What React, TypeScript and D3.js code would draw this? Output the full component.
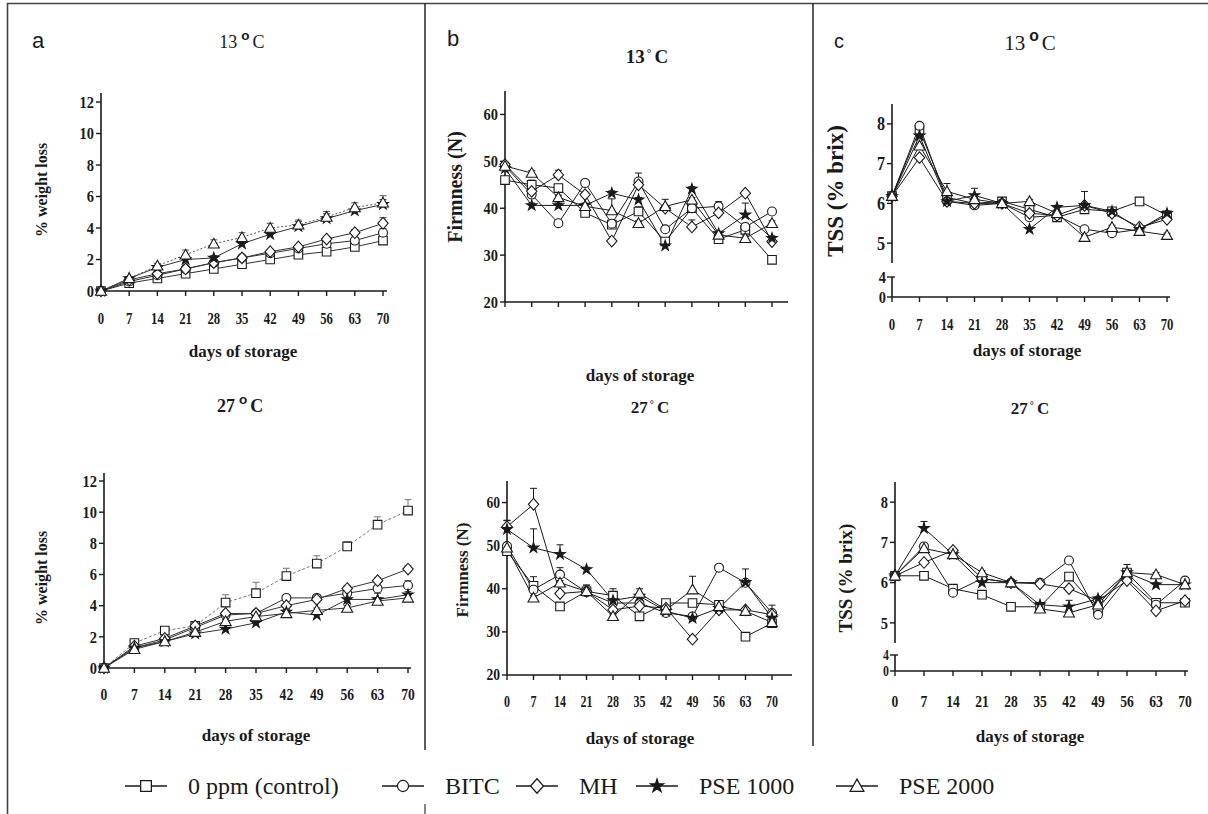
import React from "react";
import * as d3 from "d3";

const days = [0, 7, 14, 21, 28, 35, 42, 49, 56, 63, 70];
const treatments = ["0 ppm (control)", "BITC", "MH", "PSE 1000", "PSE 2000"];
const shapes = ["square", "circle", "diamond", "star", "triangle"];

// a - % weight loss, 13 C
const wl13Control = [0, 0.5, 0.8, 1.1, 1.4, 1.7, 2.0, 2.3, 2.5, 2.8, 3.2];
const wl13Bitc = [0, 0.6, 1.0, 1.4, 1.8, 2.1, 2.4, 2.7, 3.0, 3.2, 3.7];
const wl13Mh = [0, 0.7, 1.1, 1.4, 1.8, 2.1, 2.5, 2.8, 3.3, 3.7, 4.3];
const wl13Pse1000 = [0, 0.8, 1.5, 2.0, 2.1, 3.0, 3.6, 4.1, 4.6, 5.1, 5.5];
const wl13Pse2000 = [0, 0.8, 1.6, 2.3, 3.0, 3.4, 4.0, 4.2, 4.7, 5.3, 5.6];
const wl13ErrControl = [0, 0.1, 0.1, 0.1, 0.15, 0.1, 0.1, 0.15, 0.15, 0.2, 0.2];
const wl13ErrBitc = [0, 0.1, 0.1, 0.1, 0.1, 0.1, 0.15, 0.15, 0.15, 0.2, 0.25];
const wl13ErrMh = [0, 0.1, 0.1, 0.1, 0.1, 0.1, 0.15, 0.15, 0.15, 0.2, 0.35];
const wl13ErrPse1000 = [0, 0.1, 0.1, 0.15, 0.15, 0.15, 0.2, 0.3, 0.3, 0.25, 0.3];
const wl13ErrPse2000 = [0, 0.1, 0.15, 0.3, 0.25, 0.3, 0.3, 0.3, 0.35, 0.3, 0.45];

// a - % weight loss, 27 C
const wl27Control = [0, 1.6, 2.4, 2.7, 4.2, 4.8, 5.9, 6.7, 7.8, 9.2, 10.1];
const wl27Bitc = [0, 1.3, 1.8, 2.6, 3.4, 3.5, 4.5, 4.5, 4.8, 5.1, 5.3];
const wl27Mh = [0, 1.4, 1.9, 2.7, 3.5, 3.5, 4.0, 4.4, 5.1, 5.6, 6.35];
const wl27Pse1000 = [0, 1.3, 1.7, 2.2, 2.5, 2.9, 3.6, 3.4, 4.4, 4.4, 4.7];
const wl27Pse2000 = [0, 1.2, 1.7, 2.3, 3.0, 3.3, 3.5, 3.7, 3.85, 4.3, 4.5];
const wl27ErrControl = [0, 0.2, 0.2, 0.2, 0.5, 0.7, 0.5, 0.5, 0.3, 0.5, 0.7];
const wl27ErrBitc = [0, 0.1, 0.1, 0.1, 0.15, 0.15, 0.15, 0.2, 0.2, 0.2, 0.3];
const wl27ErrMh = [0, 0.1, 0.1, 0.1, 0.15, 0.15, 0.15, 0.2, 0.2, 0.2, 0.2];
const wl27ErrPse1000 = [0, 0.1, 0.1, 0.1, 0.1, 0.1, 0.15, 0.15, 0.5, 0.4, 0.2];
const wl27ErrPse2000 = [0, 0.1, 0.1, 0.1, 0.1, 0.1, 0.1, 0.15, 0.15, 0.2, 0.2];

// b - firmness (N), 13 C
const fi13Control = [46, 45, 44.3, 39, 36.5, 39.3, 32.9, 40, 33.4, 35.4, 29];
const fi13Bitc = [49, 42.9, 36.8, 45.4, 36.7, 45.7, 35.5, 40, 40.4, 36, 39.3];
const fi13Mh = [49.3, 43.6, 47.1, 42.9, 33, 45, 40, 36, 39, 43.2, 32.9];
const fi13Pse1000 = [48.5, 40.6, 40.6, 40.6, 43.2, 41.8, 32, 44.1, 34.6, 38.6, 33.6];
const fi13Pse2000 = [49, 47.5, 42.3, 40.4, 39.5, 36.8, 40.4, 41.8, 34.3, 33.6, 36.8];
const fi13ErrControl = [0.5, 1, 0.5, 0.5, 0.8, 1, 0.5, 0.5, 0.5, 0.5, 0.3];
const fi13ErrBitc = [0.5, 0.8, 0.5, 0.5, 0.5, 1.8, 0.5, 0.5, 1, 0.8, 0.5];
const fi13ErrMh = [0.5, 0.5, 1, 0.5, 0.5, 0.8, 0.5, 1.5, 0.5, 0.5, 0.5];
const fi13ErrPse1000 = [0.5, 0.5, 0.5, 0.5, 0.5, 0.5, 0.5, 0.5, 0.5, 2.5, 0.5];
const fi13ErrPse2000 = [0.5, 0.5, 0.5, 0.5, 2.5, 0.5, 1.5, 0.5, 0.5, 0.5, 0.5];

// b - firmness (N), 27 C
const fi27Control = [48.7, 40.7, 35.9, 39.4, 38.4, 33.6, 36.7, 36.7, 36.3, 28.9, 32];
const fi27Bitc = [49.9, 39.8, 43.3, 39.2, 36.7, 36.7, 34.4, 33.6, 44.9, 41.4, 34.4];
const fi27Mh = [54.4, 59.6, 38.9, 39.4, 35.1, 36, 35.5, 28.3, 35.1, 35.1, 34];
const fi27Pse1000 = [53.8, 49.5, 48, 44.5, 37.3, 38.3, 34.8, 33.2, 35.5, 41.5, 33.2];
const fi27Pse2000 = [49.5, 37.9, 41.4, 39.4, 33.6, 39, 35.1, 39.8, 35.9, 34.8, 32.2];
const fi27ErrControl = [0.5, 0.8, 0.5, 1.5, 1.6, 0.5, 0.5, 0.5, 0.5, 0.5, 0.5];
const fi27ErrBitc = [0.5, 3, 1.6, 1.5, 0.5, 0.5, 0.5, 0.5, 0.5, 0.5, 1.8];
const fi27ErrMh = [1.5, 3.7, 0.5, 0.5, 0.5, 0.5, 0.5, 0.5, 0.5, 0.5, 0.5];
const fi27ErrPse1000 = [2, 4.4, 2.2, 0.5, 0.5, 0.5, 0.5, 0.5, 0.5, 3.1, 0.5];
const fi27ErrPse2000 = [0.5, 0.5, 0.5, 0.5, 0.5, 1, 0.5, 3.1, 0.5, 0.5, 0.5];

// c - TSS (% brix), 13 C
const ts13Control = [6.18, 7.85, 6.15, 6.0, 6.05, 5.85, 5.65, 5.85, 5.8, 6.05, 5.7];
const ts13Bitc = [6.18, 7.95, 6.05, 5.95, 6.0, 5.65, 5.7, 5.35, 5.25, 5.35, 5.7];
const ts13Mh = [6.18, 7.15, 6.05, 6.0, 6.0, 5.75, 5.7, 5.95, 5.75, 5.4, 5.6];
const ts13Pse1000 = [6.18, 7.7, 6.05, 6.2, 6.0, 5.35, 5.9, 5.95, 5.8, 5.35, 5.75];
const ts13Pse2000 = [6.18, 7.45, 6.3, 6.1, 6.0, 6.05, 5.75, 5.15, 5.4, 5.3, 5.2];
const ts13ErrControl = [0.03, 0.05, 0.05, 0.05, 0.05, 0.05, 0.05, 0.05, 0.05, 0.05, 0.05];
const ts13ErrBitc = [0.03, 0.05, 0.05, 0.05, 0.05, 0.05, 0.05, 0.05, 0.05, 0.05, 0.05];
const ts13ErrMh = [0.03, 0.05, 0.05, 0.05, 0.05, 0.05, 0.05, 0.05, 0.05, 0.05, 0.05];
const ts13ErrPse1000 = [0.03, 0.05, 0.05, 0.18, 0.05, 0.05, 0.05, 0.35, 0.05, 0.05, 0.05];
const ts13ErrPse2000 = [0.03, 0.05, 0.2, 0.05, 0.05, 0.05, 0.05, 0.05, 0.05, 0.05, 0.05];

// c - TSS (% brix), 27 C
const ts27Control = [6.17, 6.17, 5.85, 5.7, 5.4, 5.4, 6.15, 5.35, 6.25, 5.5, 5.5];
const ts27Bitc = [6.17, 6.9, 5.75, 6.1, 6.0, 6.0, 6.55, 5.2, 6.1, 5.45, 6.05];
const ts27Mh = [6.17, 6.5, 6.8, 6.1, 6.0, 5.97, 5.85, 5.55, 6.05, 5.3, 5.55];
const ts27Pse1000 = [6.17, 7.35, 6.7, 6.0, 6.0, 5.45, 5.4, 5.6, 6.25, 5.95, 5.95];
const ts27Pse2000 = [6.17, 6.85, 6.7, 6.25, 6.0, 5.35, 5.25, 5.45, 6.25, 6.2, 5.95];
const ts27ErrControl = [0.03, 0.03, 0.05, 0.05, 0.05, 0.05, 0.05, 0.05, 0.05, 0.05, 0.05];
const ts27ErrBitc = [0.03, 0.05, 0.05, 0.05, 0.05, 0.05, 0.05, 0.05, 0.05, 0.05, 0.05];
const ts27ErrMh = [0.03, 0.05, 0.05, 0.05, 0.05, 0.05, 0.05, 0.05, 0.05, 0.05, 0.05];
const ts27ErrPse1000 = [0.03, 0.17, 0.05, 0.05, 0.05, 0.05, 0.16, 0.05, 0.2, 0.05, 0.05];
const ts27ErrPse2000 = [0.03, 0.05, 0.05, 0.05, 0.05, 0.05, 0.05, 0.05, 0.05, 0.05, 0.05];

const wlTicks = [0, 2, 4, 6, 8, 10, 12];
const fiTicks = [20, 30, 40, 50, 60];
const tsTicks = [5, 6, 7, 8];
const tsLowTicks = [0, 4];

const SERIF = "'Liberation Serif', 'Times New Roman', serif";
const SANS = "'Liberation Sans', Arial, sans-serif";
const INK = "#1a1a1a";

type PanelCfg = {
  x0: number; x1: number; xEnd: number;
  yDomain: [number, number]; yRange: [number, number]; axisTop: number;
  yTicks: number[];
  low?: { domain: [number, number]; range: [number, number]; ticks: number[]; font: number };
  series: number[][]; errs: number[][];
  dash: (string | undefined)[]; stroke: string[];
  showXLabels: boolean; xLabelY: number;
  tickFont: number; yTickFont: number; xScaleX: number;
};

function markerPath(shape: string) {
  switch (shape) {
    case "square": return "M-4.3,-4.3H4.3V4.3H-4.3Z";
    case "diamond": return "M0,-5.8L5.2,0L0,5.8L-5.2,0Z";
    case "triangle": return "M0,-5.5L5.5,4.2H-5.5Z";
    case "star": return d3.symbol(d3.symbolStar, 34)() as string;
    default: return d3.symbol(d3.symbolCircle, 62)() as string;
  }
}

// condensed bold tick text
function Tick({ x, y, anchor, size, sx, children }: any) {
  return (
    <text transform={`translate(${x},${y}) scale(${sx},1)`} textAnchor={anchor}
      fontFamily={SERIF} fontWeight="bold" fontSize={size} fill={INK}>{children}</text>
  );
}

function Panel({ cfg }: { cfg: PanelCfg }) {
  const x = d3.scaleLinear().domain([0, 70]).range([cfg.x0, cfg.x1]);
  const y = d3.scaleLinear().domain(cfg.yDomain).range(cfg.yRange);
  const low = cfg.low ? d3.scaleLinear().domain(cfg.low.domain).range(cfg.low.range) : null;
  const base = low ? low(0) : y(cfg.yDomain[0]);
  const line = d3.line<number>().x((_, i) => x(days[i])).y((d) => y(d));
  const ax = cfg.x0;
  return (
    <g>
      {/* y axis */}
      <line x1={ax} x2={ax} y1={cfg.axisTop} y2={low ? y(cfg.yDomain[0]) : base} stroke={INK} strokeWidth={1.6} />
      {cfg.yTicks.map((t) => (
        <g key={"yt" + t}>
          <line x1={ax - 5} x2={ax} y1={y(t)} y2={y(t)} stroke={INK} strokeWidth={1.4} />
          <Tick x={ax - 7} y={y(t) + cfg.yTickFont * 0.34} anchor="end" size={cfg.yTickFont} sx={0.85}>{t}</Tick>
        </g>
      ))}
      {low && (
        <g>
          <line x1={ax} x2={ax} y1={low(cfg.low!.domain[1])} y2={base} stroke={INK} strokeWidth={1.6} />
          {cfg.low!.ticks.map((t) => (
            <g key={"lt" + t}>
              <line x1={ax - 5} x2={ax + (t > 0 ? 3 : 0)} y1={low(t)} y2={low(t)} stroke={INK} strokeWidth={1.4} />
              <Tick x={ax - 6} y={low(t) + cfg.low!.font * 0.34} anchor="end" size={cfg.low!.font} sx={0.85}>{t}</Tick>
            </g>
          ))}
        </g>
      )}
      {/* x axis */}
      <line x1={ax} x2={cfg.xEnd} y1={base} y2={base} stroke={INK} strokeWidth={1.6} />
      {days.map((d) => (
        <g key={"xt" + d}>
          <line x1={x(d)} x2={x(d)} y1={base} y2={base + 5} stroke={INK} strokeWidth={1.4} />
          {cfg.showXLabels && (
            <Tick x={x(d)} y={cfg.xLabelY} anchor="middle" size={cfg.tickFont} sx={cfg.xScaleX}>{d}</Tick>
          )}
        </g>
      ))}
      {/* series lines */}
      {cfg.series.map((s, k) => (
        <path key={"l" + k} d={line(s) as string} fill="none" stroke={cfg.stroke[k]} strokeWidth={1}
          strokeDasharray={cfg.dash[k]} />
      ))}
      {/* error bars */}
      {cfg.series.map((s, k) => (
        <g key={"e" + k} stroke={cfg.stroke[k]} strokeWidth={1}>
          {s.map((v, i) => {
            const e = cfg.errs[k][i];
            if (!e) return null;
            const top = y(v + e);
            return (
              <g key={i}>
                <line x1={x(days[i])} x2={x(days[i])} y1={y(v)} y2={top} />
                <line x1={x(days[i]) - 3.5} x2={x(days[i]) + 3.5} y1={top} y2={top} />
              </g>
            );
          })}
        </g>
      ))}
      {/* markers */}
      {cfg.series.map((s, k) => (
        <g key={"m" + k}>
          {s.map((v, i) => (
            <path key={i} d={markerPath(shapes[k])} transform={`translate(${x(days[i])},${y(v)})`}
              fill={shapes[k] === "star" ? INK : "#fff"} stroke={INK} strokeWidth={1.1} />
          ))}
        </g>
      ))}
    </g>
  );
}

const solid = [INK, INK, INK, INK, INK];

const panels: PanelCfg[] = [
  {
    x0: 101, x1: 383, xEnd: 387, yDomain: [0, 12], yRange: [291, 102], axisTop: 93, yTicks: wlTicks,
    series: [wl13Control, wl13Bitc, wl13Mh, wl13Pse1000, wl13Pse2000],
    errs: [wl13ErrControl, wl13ErrBitc, wl13ErrMh, wl13ErrPse1000, wl13ErrPse2000],
    dash: [undefined, undefined, undefined, undefined, "2,2"], stroke: ["#333", "#333", "#333", "#333", "#555"],
    showXLabels: true, xLabelY: 324, tickFont: 17, yTickFont: 17, xScaleX: 0.75,
  },
  {
    x0: 104, x1: 408, xEnd: 411, yDomain: [0, 12], yRange: [668, 481], axisTop: 473, yTicks: wlTicks,
    series: [wl27Control, wl27Bitc, wl27Mh, wl27Pse1000, wl27Pse2000],
    errs: [wl27ErrControl, wl27ErrBitc, wl27ErrMh, wl27ErrPse1000, wl27ErrPse2000],
    dash: ["3,2", undefined, undefined, undefined, undefined], stroke: ["#777", "#333", "#333", "#333", "#333"],
    showXLabels: true, xLabelY: 700, tickFont: 17, yTickFont: 17, xScaleX: 0.8,
  },
  {
    x0: 505, x1: 772, xEnd: 788, yDomain: [20, 65], yRange: [302, 91], axisTop: 91, yTicks: fiTicks,
    series: [fi13Control, fi13Bitc, fi13Mh, fi13Pse1000, fi13Pse2000],
    errs: [fi13ErrControl, fi13ErrBitc, fi13ErrMh, fi13ErrPse1000, fi13ErrPse2000],
    dash: [undefined, undefined, undefined, undefined, undefined], stroke: solid,
    showXLabels: false, xLabelY: 0, tickFont: 16, yTickFont: 17, xScaleX: 0.75,
  },
  {
    x0: 507, x1: 772, xEnd: 792, yDomain: [20, 65], yRange: [675, 481], axisTop: 481, yTicks: fiTicks,
    series: [fi27Control, fi27Bitc, fi27Mh, fi27Pse1000, fi27Pse2000],
    errs: [fi27ErrControl, fi27ErrBitc, fi27ErrMh, fi27ErrPse1000, fi27ErrPse2000],
    dash: [undefined, undefined, undefined, undefined, undefined], stroke: solid,
    showXLabels: true, xLabelY: 707, tickFont: 16, yTickFont: 16, xScaleX: 0.75,
  },
  {
    x0: 892, x1: 1167, xEnd: 1170, yDomain: [4.5, 8.5], yRange: [263, 104], axisTop: 104, yTicks: tsTicks,
    low: { domain: [0, 4], range: [297, 277], ticks: tsLowTicks, font: 17 },
    series: [ts13Control, ts13Bitc, ts13Mh, ts13Pse1000, ts13Pse2000],
    errs: [ts13ErrControl, ts13ErrBitc, ts13ErrMh, ts13ErrPse1000, ts13ErrPse2000],
    dash: [undefined, undefined, undefined, undefined, undefined], stroke: solid,
    showXLabels: true, xLabelY: 330, tickFont: 17, yTickFont: 19, xScaleX: 0.75,
  },
  {
    x0: 895, x1: 1185, xEnd: 1188, yDomain: [4.5, 8.5], yRange: [643, 482], axisTop: 482, yTicks: tsTicks,
    low: { domain: [0, 4], range: [671, 655], ticks: tsLowTicks, font: 14 },
    series: [ts27Control, ts27Bitc, ts27Mh, ts27Pse1000, ts27Pse2000],
    errs: [ts27ErrControl, ts27ErrBitc, ts27ErrMh, ts27ErrPse1000, ts27ErrPse2000],
    dash: [undefined, undefined, undefined, undefined, undefined], stroke: solid,
    showXLabels: true, xLabelY: 707, tickFont: 17, yTickFont: 17, xScaleX: 0.8,
  },
];

function Degree({ x, y, num, size, bold, big }: any) {
  return (
    <text x={x} y={y} textAnchor="middle" fontFamily={SERIF} fontSize={size} fontWeight={bold ? "bold" : "normal"} fill={INK}>
      {num}
      {big ? (
        <tspan dx={4} dy={-size * 0.45} fontFamily={SANS} fontWeight="bold" fontSize={size * 0.75}>o</tspan>
      ) : (
        <tspan dx={2} dy={-size * 0.3} fontSize={size * 0.6}>°</tspan>
      )}
      <tspan dx={3} dy={big ? size * 0.45 : size * 0.3}>C</tspan>
    </text>
  );
}

function VLabel({ x, y, size, children }: any) {
  return (
    <text transform={`translate(${x},${y}) rotate(-90)`} textAnchor="middle" fontFamily={SERIF}
      fontWeight="bold" fontSize={size} fill={INK}>{children}</text>
  );
}

function XLabel({ x, y }: any) {
  return (
    <text x={x} y={y} textAnchor="middle" fontFamily={SERIF} fontWeight="bold" fontSize={17} fill={INK}>days of storage</text>
  );
}

const legendX = [125, 382, 516, 636, 836];

export default function App() {
  return (
    <svg width={1208} height={814} style={{ position: "absolute", left: 0, top: 0, background: "#fff" }}>
      <rect width={1208} height={814} fill="#fff" />
      {/* frame */}
      <line x1={7} x2={1208} y1={3.5} y2={3.5} stroke="#444" strokeWidth={1.6} />
      <line x1={7.5} x2={7.5} y1={3} y2={814} stroke="#444" strokeWidth={1.6} />
      <line x1={425} x2={425} y1={3} y2={750} stroke="#333" strokeWidth={1.6} />
      <line x1={425} x2={425} y1={804} y2={814} stroke="#333" strokeWidth={1.2} />
      <line x1={813} x2={813} y1={3} y2={746} stroke="#333" strokeWidth={1.6} />

      {/* panel letters */}
      <text x={32} y={48} fontFamily={SANS} fontSize={22} fill={INK}>a</text>
      <text x={447} y={46} fontFamily={SANS} fontSize={22} fill={INK}>b</text>
      <text x={834} y={48} fontFamily={SANS} fontSize={20} fill={INK}>c</text>

      {/* titles */}
      <Degree x={242} y={48} num="13" size={18} big />
      <Degree x={647} y={63} num="13" size={19} bold />
      <Degree x={1030} y={50} num="13" size={21} big />
      <Degree x={240} y={412} num="27" size={18} bold big />
      <Degree x={650} y={413} num="27" size={17} bold />
      <Degree x={1030} y={414} num="27" size={17} bold />

      {/* axis titles */}
      <VLabel x={47} y={190} size={16}>% weight loss</VLabel>
      <VLabel x={47} y={578} size={16}>% weight loss</VLabel>
      <VLabel x={462} y={187} size={20}>Firmness (N)</VLabel>
      <VLabel x={468} y={570} size={17}>Firmness (N)</VLabel>
      <VLabel x={843} y={191} size={23}>TSS (% brix)</VLabel>
      <VLabel x={852} y={578} size={19}>TSS (% brix)</VLabel>

      <XLabel x={243} y={357} />
      <XLabel x={256} y={741} />
      <XLabel x={640} y={381} />
      <XLabel x={640} y={744} />
      <XLabel x={1027} y={356} />
      <XLabel x={1030} y={742} />

      {panels.map((p, i) => <Panel key={i} cfg={p} />)}

      {/* legend */}
      {treatments.map((t, i) => {
        const lx = legendX[i];
        return (
          <g key={t}>
            <line x1={lx} x2={lx + 42} y1={786} y2={786} stroke={INK} strokeWidth={1.3} />
            <path d={markerPath(shapes[i])} transform={`translate(${lx + 21},${786}) scale(1.25)`}
              fill={shapes[i] === "star" ? INK : "#fff"} stroke={INK} strokeWidth={1} />
            <text x={lx + 63} y={794} fontFamily={SERIF} fontSize={24} fill={INK}>{t}</text>
          </g>
        );
      })}
    </svg>
  );
}
